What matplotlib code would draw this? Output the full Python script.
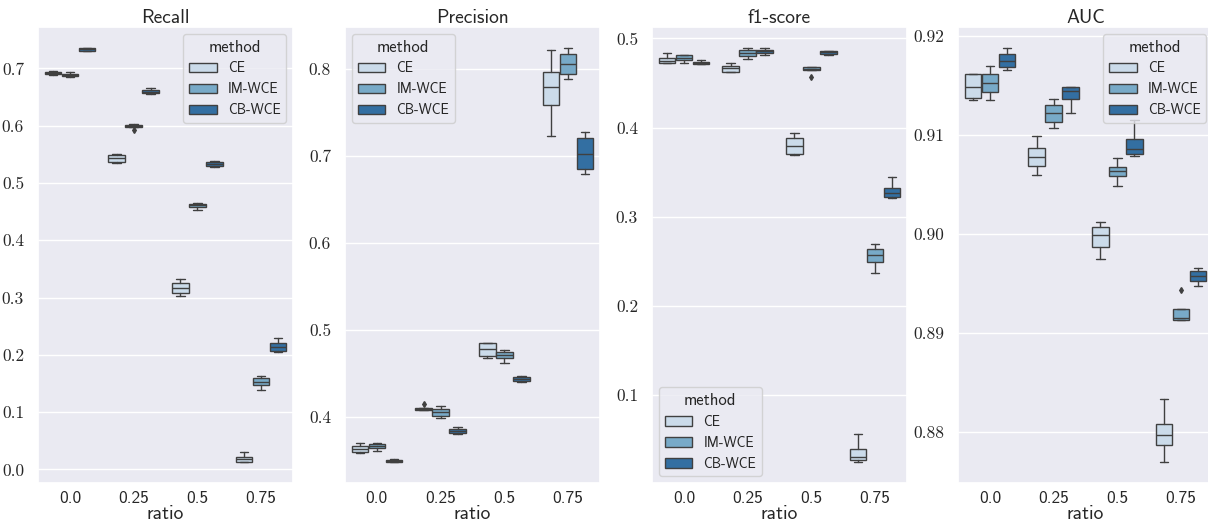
import matplotlib
matplotlib.use("Agg")
import matplotlib.pyplot as plt
import seaborn as sns
from matplotlib.patches import Patch
from matplotlib.ticker import FuncFormatter

# categories
ratios = ["0.0", "0.25", "0.5", "0.75"]
methods = ["CE", "IM-WCE", "CB-WCE"]

# box stats per (ratio, method), ratio-major order:
# [whisker low, q1, median, q3, whisker high]
recall_boxes = [
    [0.6890, 0.6900, 0.6920, 0.6940, 0.6950],
    [0.6850, 0.6873, 0.6890, 0.6907, 0.6930],
    [0.7300, 0.7301, 0.7330, 0.7347, 0.7360],
    [0.5356, 0.5368, 0.5432, 0.5495, 0.5513],
    [0.5971, 0.5971, 0.5994, 0.6017, 0.6025],
    [0.6554, 0.6566, 0.6595, 0.6624, 0.6658],
    [0.3027, 0.3071, 0.3166, 0.3256, 0.3325],
    [0.4523, 0.4581, 0.4610, 0.4639, 0.4650],
    [0.5270, 0.5299, 0.5339, 0.5374, 0.5391],
    [0.0125, 0.0131, 0.0177, 0.0218, 0.0304],
    [0.1387, 0.1473, 0.1531, 0.1589, 0.1635],
    [0.2058, 0.2069, 0.2133, 0.2203, 0.2301],
]
recall_fliers = {4: [0.5925]}

precision_boxes = [
    [0.3592, 0.3600, 0.3634, 0.3665, 0.3707],
    [0.3608, 0.3642, 0.3665, 0.3691, 0.3703],
    [0.3482, 0.3486, 0.3497, 0.3512, 0.3520],
    [0.4080, 0.4080, 0.4095, 0.4110, 0.4110],
    [0.3989, 0.4019, 0.4057, 0.4095, 0.4133],
    [0.3810, 0.3817, 0.3844, 0.3870, 0.3893],
    [0.4686, 0.4709, 0.4789, 0.4857, 0.4857],
    [0.4621, 0.4686, 0.4720, 0.4754, 0.4777],
    [0.4404, 0.4419, 0.4438, 0.4457, 0.4469],
    [0.7238, 0.7589, 0.7802, 0.7973, 0.8217],
    [0.7886, 0.7943, 0.8057, 0.8175, 0.8248],
    [0.6792, 0.6850, 0.7029, 0.7208, 0.7276],
]
precision_fliers = {3: [0.4149]}

f1_boxes = [
    [0.4721, 0.4721, 0.4751, 0.4784, 0.4833],
    [0.4721, 0.4758, 0.4784, 0.4810, 0.4810],
    [0.4717, 0.4717, 0.4728, 0.4736, 0.4754],
    [0.4628, 0.4628, 0.4665, 0.4691, 0.4725],
    [0.4766, 0.4799, 0.4836, 0.4866, 0.4896],
    [0.4814, 0.4836, 0.4855, 0.4870, 0.4888],
    [0.3687, 0.3705, 0.3794, 0.3884, 0.3936],
    [0.4643, 0.4643, 0.4661, 0.4680, 0.4680],
    [0.4810, 0.4829, 0.4844, 0.4855, 0.4862],
    [0.0245, 0.0267, 0.0308, 0.0390, 0.0565],
    [0.2366, 0.2488, 0.2570, 0.2634, 0.2697],
    [0.3210, 0.3221, 0.3262, 0.3318, 0.3445],
]
f1_fliers = {7: [0.4568]}

auc_boxes = [
    [0.91356, 0.91373, 0.91490, 0.91614, 0.91620],
    [0.91356, 0.91433, 0.91531, 0.91620, 0.91700],
    [0.91658, 0.91688, 0.91749, 0.91816, 0.91883],
    [0.90592, 0.90689, 0.90780, 0.90870, 0.90987],
    [0.91071, 0.91128, 0.91222, 0.91306, 0.91360],
    [0.91225, 0.91360, 0.91447, 0.91487, 0.91490],
    [0.89750, 0.89871, 0.89985, 0.90072, 0.90126],
    [0.90484, 0.90589, 0.90639, 0.90676, 0.90770],
    [0.90793, 0.90810, 0.90863, 0.90961, 0.91150],
    [0.87692, 0.87866, 0.87963, 0.88074, 0.88329],
    [0.89133, 0.89133, 0.89147, 0.89241, 0.89241],
    [0.89475, 0.89526, 0.89576, 0.89626, 0.89660],
]
auc_fliers = {10: [0.89435]}

panels = [
    ("Recall", recall_boxes, recall_fliers, "%.1f", "upper right"),
    ("Precision", precision_boxes, precision_fliers, "%.1f", "upper left"),
    ("f1-score", f1_boxes, f1_fliers, "%.1f", "lower left"),
    ("AUC", auc_boxes, auc_fliers, "%.2f", "upper right"),
]

sns.set_theme(style="darkgrid")
plt.rcParams["font.family"] = ["cmss10", "DejaVu Sans"]
plt.rcParams["axes.unicode_minus"] = False

colors = [sns.desaturate(c, 0.75) for c in sns.color_palette("Blues", 3)]
gray = "#404040"
lw = 1.0

fig = plt.figure(figsize=(12.08, 5.24), dpi=100)
W, H = 1208, 524
lefts = [38, 345, 652, 958]
n = len(methods)
bw = 0.8 / n

for left, (title, boxes, fliers, fmt, loc) in zip(lefts, panels):
    ax = fig.add_axes([left / W, 41 / H, 255 / W, 456 / H])
    stats, pos, faces = [], [], []
    k = 0
    for i in range(len(ratios)):
        for j in range(n):
            lo, q1, med, q3, hi = boxes[k]
            stats.append(dict(whislo=lo, q1=q1, med=med, q3=q3, whishi=hi,
                              fliers=fliers.get(k, [])))
            pos.append(i + (j - (n - 1) / 2) * bw)
            faces.append(colors[j])
            k += 1
    art = ax.bxp(stats, positions=pos, widths=bw * 0.98, patch_artist=True,
                 boxprops=dict(edgecolor=gray, linewidth=lw),
                 whiskerprops=dict(color=gray, linewidth=lw),
                 capprops=dict(color=gray, linewidth=lw),
                 medianprops=dict(color=gray, linewidth=lw),
                 flierprops=dict(marker="d", markerfacecolor=gray,
                                 markeredgecolor=gray, markersize=3))
    for patch, fc in zip(art["boxes"], faces):
        patch.set_facecolor(fc)
    ax.grid(axis="x", visible=False)
    ax.set_xlim(-0.5, len(ratios) - 0.5)
    ax.set_xticks(range(len(ratios)))
    ax.set_xticklabels(ratios)
    ax.yaxis.set_major_formatter(FuncFormatter(lambda v, p, f=fmt: f % v))
    ax.tick_params(axis="x", labelsize=12.5, pad=0)
    ax.tick_params(axis="y", labelsize=12.5, pad=4)
    for t in ax.get_yticklabels():
        t.set_fontfamily("cmr10")
    ax.set_title(title, fontsize=14, pad=3)
    ax.set_xlabel("ratio", fontsize=14, labelpad=-1)
    handles = [Patch(facecolor=c, edgecolor=gray, linewidth=lw, label=m)
               for c, m in zip(colors, methods)]
    ax.legend(handles=handles, title="method", loc=loc, fontsize=10,
              title_fontsize=12)

fig.savefig("out.png", dpi=100)
